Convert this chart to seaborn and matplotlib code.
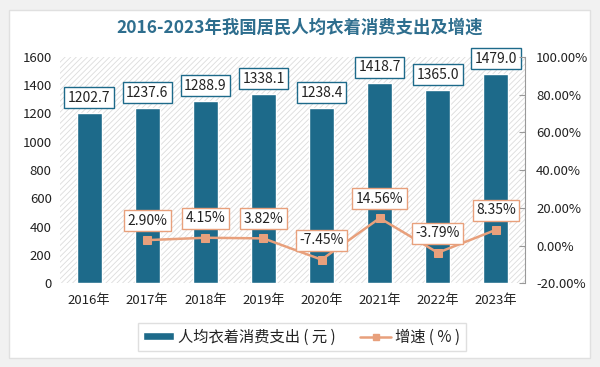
import matplotlib
matplotlib.use("Agg")
import matplotlib.pyplot as plt
import matplotlib.ticker as mticker
from matplotlib.patches import FancyBboxPatch, Patch
from matplotlib.lines import Line2D
import seaborn as sns

# -----------------------------------------------
# DATA
# -----------------------------------------------
years = ["2016年", "2017年", "2018年", "2019年", "2020年", "2021年", "2022年", "2023年"]
spend = [1202.7, 1237.6, 1288.9, 1338.1, 1238.4, 1418.7, 1365.0, 1479.0]
growth_years = ["2017年", "2018年", "2019年", "2020年", "2021年", "2022年", "2023年"]
growth = [2.90, 4.15, 3.82, -7.45, 14.56, -3.79, 8.35]

BAR_COLOR = "#1d6a8a"
LINE_COLOR = "#e8a07c"
TITLE_COLOR = "#2e6e8e"
TEXT_COLOR = "#222222"

sns.set_theme(style="white")
plt.rcParams["font.family"] = ["Noto Sans CJK SC", "DejaVu Sans"]
plt.rcParams["hatch.color"] = "#dcdcdc"
plt.rcParams["hatch.linewidth"] = 0.6

fig = plt.figure(figsize=(6.0, 3.67), dpi=100, facecolor="#f1f1f1")

# white card with soft border
card = FancyBboxPatch((0.015, 0.025), 0.968, 0.948, boxstyle="square,pad=0",
                      transform=fig.transFigure, facecolor="white",
                      edgecolor="#e0e0e0", linewidth=1.0, zorder=-10)
fig.patches.append(card)

ax = fig.add_axes([0.100, 0.228, 0.775, 0.617])
ax.set_facecolor("white")
ax.patch.set_hatch("//////")
ax.patch.set_edgecolor("#dcdcdc")

sns.barplot(x=years, y=spend, color=BAR_COLOR, width=0.43, saturation=1, ax=ax, zorder=3)
ax.set_ylim(0, 1600)
ax.set_yticks(range(0, 1601, 200))
ax.set_xlim(-0.5, 7.5)
ax.tick_params(axis="both", labelsize=9.5, colors=TEXT_COLOR, length=0)
ax.tick_params(axis="x", pad=8)
ax.tick_params(axis="y", pad=6)
ax.set_xlabel("")
ax.set_ylabel("")
for s in ax.spines.values():
    s.set_visible(False)

# bar value labels
for i, v in enumerate(spend):
    ax.annotate(f"{v:.1f}", (i, v), xytext=(0, 6), textcoords="offset points",
                ha="center", va="bottom", fontsize=10, color=TEXT_COLOR, zorder=6,
                bbox=dict(boxstyle="square,pad=0.25", fc="white", ec=BAR_COLOR, lw=1))

# growth line on secondary axis
ax2 = ax.twinx()
xpos = [years.index(y) for y in growth_years]
sns.lineplot(x=xpos, y=growth, ax=ax2, color=LINE_COLOR, linewidth=1.8,
             marker="s", markersize=6, markeredgecolor=LINE_COLOR, zorder=5)
ax2.set_ylim(-20, 100)
ax2.set_yticks(range(-20, 101, 20))
ax2.yaxis.set_major_formatter(mticker.FuncFormatter(lambda x, _: f"{x:.2f}%"))
ax2.tick_params(axis="y", labelsize=9.5, colors=TEXT_COLOR, direction="in",
                length=4, width=0.8, color="#999999", pad=8)
ax2.set_ylabel("")
for s in ax2.spines.values():
    s.set_visible(False)
ax2.spines["right"].set_visible(True)
ax2.spines["right"].set_color("#999999")
ax2.spines["right"].set_linewidth(0.8)

for x, g in zip(xpos, growth):
    ax2.annotate(f"{g:.2f}%", (x, g), xytext=(0, 9), textcoords="offset points",
                 ha="center", va="bottom", fontsize=10, color=TEXT_COLOR, zorder=6,
                 bbox=dict(boxstyle="square,pad=0.25", fc="white", ec=LINE_COLOR, lw=1))

fig.text(0.5, 0.925, "2016-2023年我国居民人均衣着消费支出及增速", ha="center", va="center",
         fontsize=12.5, fontweight="bold", color=TITLE_COLOR)

handles = [Patch(facecolor=BAR_COLOR, label="人均衣着消费支出 ( 元 )"),
           Line2D([0], [0], color=LINE_COLOR, marker="s", markersize=5, lw=1.8,
                  label="增速 ( % )")]
leg = fig.legend(handles=handles, loc="center", bbox_to_anchor=(0.503, 0.082), ncol=2,
                 frameon=True, fontsize=11, handlelength=2.0, handleheight=0.5,
                 handletextpad=0.3, columnspacing=1.6, fancybox=False,
                 edgecolor="#d8d8d8", borderpad=0.35)
for t in leg.get_texts():
    t.set_color(TEXT_COLOR)

plt.savefig("out.png", dpi=100, facecolor=fig.get_facecolor())
